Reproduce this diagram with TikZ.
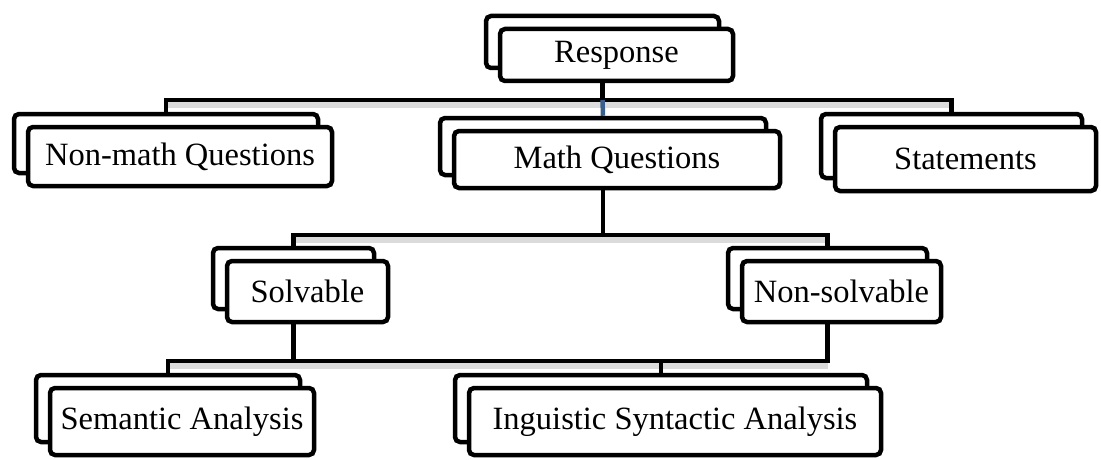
\documentclass[tikz,border=0pt]{standalone}
\usepackage{fontspec}
\setmainfont{Liberation Serif}
\usetikzlibrary{backgrounds}
\definecolor{segblue}{RGB}{58,95,140}
\tikzset{
  box/.style={draw=black, line width=4.5pt, rounded corners=5pt, fill=white, inner sep=0pt,
    font=\fontsize{32.5}{38}\selectfont},
  conn/.style={draw=black, line width=4.5pt},
  shadowline/.style={draw=black!14, line width=6pt},
}
% name, front centre x, front centre y, width, height, text
\newcommand\dbox[6]{%
  \node[box, minimum width=#4pt, minimum height=#5pt] (#1B) at (#2-14,#3-13) {};
  \node[box, minimum width=#4pt, minimum height=#5pt] (#1) at (#2,#3) {#6};
}
\begin{document}
\begin{tikzpicture}[x=1pt, y=-1pt]
\useasboundingbox (0,0) rectangle (1101,460);
\dbox{resp}{616.5}{55}{233}{52}{Response}
\dbox{nm}{180}{156.5}{304}{59}{Non-math Questions}
\dbox{math}{617}{159.5}{326}{57}{Math Questions}
\dbox{st}{965.5}{159}{261}{64}{Statements}
\dbox{sol}{307.5}{291.5}{161}{61}{Solvable}
\dbox{nsol}{841.5}{291.5}{199}{61}{Non-solvable}
\dbox{sem}{182}{421.5}{264}{67}{Semantic Analysis}
\dbox{ling}{675}{421.5}{412}{67}{Inguistic Syntactic Analysis}
\coordinate (y1) at (0,100);
\coordinate (y2) at (0,235);
\coordinate (y3) at (0,361);
\begin{pgfonlayer}{background}
  % soft shadows under the bars
  \draw[shadowline] ([yshift=-5pt]nmB.north |- y1) -- ([yshift=-5pt]stB.north |- y1);
  \draw[shadowline] ([yshift=-5pt]solB.north |- y2) -- ([yshift=-5pt]nsolB.north |- y2);
  \draw[shadowline] ([yshift=-5pt]semB.north |- y3) -- ([yshift=-5pt]nsolB.south |- y3);
  % connectors
  \draw[conn] (respB.south) -- (respB.south |- y1);
  \draw[conn] (nmB.north) -- (nmB.north |- y1) -- (stB.north |- y1) -- (stB.north);
  \draw[conn, draw=segblue] (respB.south |- y1) -- (mathB.north);
  \draw[conn] (mathB.south) -- (mathB.south |- y2);
  \draw[conn] (solB.north) -- (solB.north |- y2) -- (nsolB.north |- y2) -- (nsolB.north);
  \draw[conn] (solB.south) -- (solB.south |- y3);
  \draw[conn] (semB.north) -- (semB.north |- y3) -- (nsolB.south |- y3) -- (nsolB.south);
  \draw[conn] (lingB.north) -- (lingB.north |- y3);
\end{pgfonlayer}
\end{tikzpicture}
\end{document}
